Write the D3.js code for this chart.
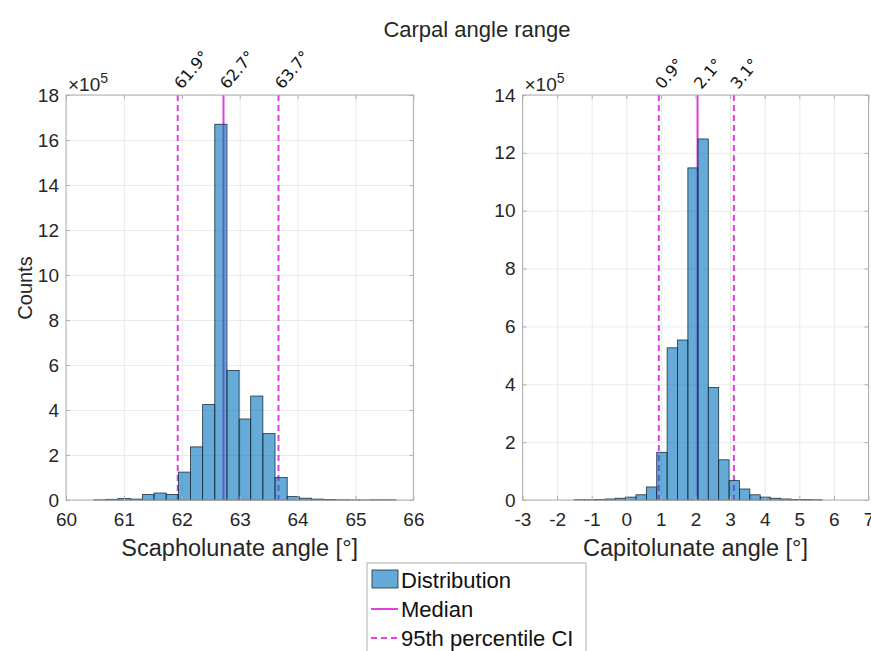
<!DOCTYPE html>
<html>
<head>
<meta charset="utf-8">
<script src="https://cdn.jsdelivr.net/npm/d3@7"></script>
<style>
  body { margin: 0; background: #fff; }
  svg { display: block; font-family: "Liberation Sans", Arial, Helvetica, sans-serif; }
</style>
</head>
<body>
<div id="chart"></div>
<script>
// DATA (counts in units of 1e5)
const slEdges = [60.48, 60.69, 60.90, 61.11, 61.32, 61.52, 61.73, 61.94, 62.15, 62.36, 62.57, 62.78, 62.99,
  63.19, 63.40, 63.61, 63.82, 64.03, 64.24, 64.45, 64.66, 64.87, 65.07, 65.28, 65.49, 65.70]
const slCounts = [0.01, 0.03, 0.07, 0.04, 0.24, 0.31, 0.25, 1.24, 2.36, 4.24, 16.7, 5.76, 3.6,
  4.62, 2.95, 1.0, 0.15, 0.08, 0.04, 0.02, 0.01, 0.005, 0.003, 0.01, 0.01]
const slStats = [61.93, 62.72, 63.67]   // lower CI, median, upper CI

const clEdges = [-1.51, -1.21, -0.91, -0.61, -0.32, -0.02, 0.28, 0.58, 0.88, 1.18, 1.48, 1.78, 2.07,
  2.37, 2.67, 2.97, 3.27, 3.57, 3.87, 4.16, 4.46, 4.76, 5.06, 5.36, 5.66]
const clCounts = [0.01, 0.01, 0.02, 0.035, 0.06, 0.1, 0.18, 0.45, 1.65, 5.26, 5.53, 11.48, 12.48,
  3.89, 1.39, 0.67, 0.38, 0.18, 0.1, 0.06, 0.035, 0.02, 0.015, 0.01]
const clStats = [0.94, 2.06, 3.11]

const slTicksX = [60, 61, 62, 63, 64, 65, 66]
const slTicksY = [0, 2, 4, 6, 8, 10, 12, 14, 16, 18]
const clTicksX = [-3, -2, -1, 0, 1, 2, 3, 4, 5, 6, 7]
const clTicksY = [0, 2, 4, 6, 8, 10, 12, 14]

const legendLabels = ["Distribution", "Median", "95th percentile CI"]

const width = 871, height = 651
const plotTop = 95, plotBottom = 500
const textColor = "#262626"
const frameColor = "#b0b0b0"
const gridColor = "#ebebeb"
const statColor = "#e23fe2"
const barFill = "#0072BD"
const barStroke = "#1c3040"

const svg = d3.select("#chart")
  .append("svg")
  .attr("width", width)
  .attr("height", height)

// TITLE
svg.append("text")
  .attr("x", 477)
  .attr("y", 37)
  .attr("text-anchor", "middle")
  .attr("font-size", 22)
  .attr("fill", textColor)
  .text("Carpal angle range")

function drawPanel(p) {
  const x = d3.scaleLinear().domain(d3.extent(p.ticksX)).range([p.left, p.right])
  const y = d3.scaleLinear().domain(d3.extent(p.ticksY)).range([plotBottom, plotTop])
  const g = svg.append("g")

  // grid
  g.append("g")
    .attr("transform", `translate(0, ${plotBottom})`)
    .call(d3.axisBottom(x).tickValues(p.ticksX).tickSize(-(plotBottom - plotTop)).tickFormat(""))
    .call(s => s.select(".domain").remove())
    .selectAll(".tick line").attr("stroke", gridColor)
  g.append("g")
    .attr("transform", `translate(${p.left}, 0)`)
    .call(d3.axisLeft(y).tickValues(p.ticksY).tickSize(-(p.right - p.left)).tickFormat(""))
    .call(s => s.select(".domain").remove())
    .selectAll(".tick line").attr("stroke", gridColor)

  // median + CI lines (drawn under the translucent bars)
  g.selectAll(".stat")
    .data(p.stats)
    .join("line")
      .attr("class", "stat")
      .attr("x1", d => x(d))
      .attr("x2", d => x(d))
      .attr("y1", plotTop)
      .attr("y2", plotBottom)
      .attr("stroke", statColor)
      .attr("stroke-width", 2)
      .attr("stroke-dasharray", (d, i) => i === 1 ? null : "6,4")

  // histogram bars
  g.selectAll(".bar")
    .data(p.counts)
    .join("rect")
      .attr("class", "bar")
      .attr("x", (d, i) => x(p.edges[i]))
      .attr("width", (d, i) => x(p.edges[i + 1]) - x(p.edges[i]))
      .attr("y", d => y(d))
      .attr("height", d => plotBottom - y(d))
      .attr("fill", barFill)
      .attr("fill-opacity", 0.6)
      .attr("stroke", barStroke)
      .attr("stroke-width", 0.8)

  // frame
  g.append("rect")
    .attr("x", p.left)
    .attr("y", plotTop)
    .attr("width", p.right - p.left)
    .attr("height", plotBottom - plotTop)
    .attr("fill", "none")
    .attr("stroke", frameColor)

  // axes with inward ticks
  const xAxis = g.append("g")
    .attr("transform", `translate(0, ${plotBottom})`)
    .call(d3.axisBottom(x).tickValues(p.ticksX).tickSize(-4).tickPadding(13).tickFormat(d => String(d)))
  const xTop = g.append("g")
    .attr("transform", `translate(0, ${plotTop})`)
    .call(d3.axisTop(x).tickValues(p.ticksX).tickSize(-4).tickFormat(""))
  const yAxis = g.append("g")
    .attr("transform", `translate(${p.left}, 0)`)
    .call(d3.axisLeft(y).tickValues(p.ticksY).tickSize(-4).tickPadding(7).tickFormat(d => String(d)))
  const yRight = g.append("g")
    .attr("transform", `translate(${p.right}, 0)`)
    .call(d3.axisRight(y).tickValues(p.ticksY).tickSize(-4).tickFormat(""))
  ;[xAxis, xTop, yAxis, yRight].forEach(a => {
    a.select(".domain").remove()
    a.selectAll(".tick line").attr("stroke", frameColor)
    a.selectAll("text")
      .attr("font-family", "Liberation Sans, Arial, sans-serif")
      .attr("font-size", 19)
      .attr("fill", textColor)
  })

  // x10^5 exponent
  const ex = g.append("text")
    .attr("x", p.left + 2)
    .attr("y", 91)
    .attr("font-size", 19)
    .attr("fill", textColor)
    .text("×10")
  ex.append("tspan")
    .attr("dy", -8)
    .attr("font-size", 14)
    .text("5")

  // rotated stat labels
  g.selectAll(".statLabel")
    .data(p.stats)
    .join("text")
      .attr("class", "statLabel")
      .attr("transform", d => `translate(${x(d) + 4}, ${plotTop - 5}) rotate(-50)`)
      .attr("font-family", "DejaVu Sans, sans-serif")
      .attr("font-size", 16)
      .attr("fill", "#111")
      .text(d => d3.format(".1f")(d) + "°")

  // x label
  g.append("text")
    .attr("x", (p.left + p.right) / 2)
    .attr("y", 556)
    .attr("text-anchor", "middle")
    .attr("font-size", 23.5)
    .attr("fill", textColor)
    .text(p.xLabel)
}

drawPanel({ left: 66, right: 413.4, edges: slEdges, counts: slCounts, stats: slStats,
  ticksX: slTicksX, ticksY: slTicksY, xLabel: "Scapholunate angle [°]" })
drawPanel({ left: 522.5, right: 868.5, edges: clEdges, counts: clCounts, stats: clStats,
  ticksX: clTicksX, ticksY: clTicksY, xLabel: "Capitolunate angle [°]" })

// y label
svg.append("text")
  .attr("transform", "translate(32, 288) rotate(-90)")
  .attr("text-anchor", "middle")
  .attr("font-size", 20)
  .attr("fill", textColor)
  .text("Counts")

// LEGEND
const legend = svg.append("g")
legend.append("rect")
  .attr("x", 367)
  .attr("y", 563)
  .attr("width", 219)
  .attr("height", 110)
  .attr("fill", "#fff")
  .attr("stroke", frameColor)

const rowY = d3.scalePoint().domain(legendLabels).range([588, 646])

legend.append("rect")
  .attr("x", 372)
  .attr("y", rowY(legendLabels[0]) - 18)
  .attr("width", 26)
  .attr("height", 18)
  .attr("fill", barFill)
  .attr("fill-opacity", 0.6)
  .attr("stroke", barStroke)
  .attr("stroke-width", 0.8)

legend.selectAll(".legLine")
  .data(legendLabels.slice(1))
  .join("line")
    .attr("class", "legLine")
    .attr("x1", 371)
    .attr("x2", 398)
    .attr("y1", d => rowY(d) - 8)
    .attr("y2", d => rowY(d) - 8)
    .attr("stroke", statColor)
    .attr("stroke-width", 2)
    .attr("stroke-dasharray", (d, i) => i === 0 ? null : "6,4")

legend.selectAll(".legText")
  .data(legendLabels)
  .join("text")
    .attr("class", "legText")
    .attr("x", 401)
    .attr("y", d => rowY(d))
    .attr("font-size", 22)
    .attr("fill", "#111")
    .text(d => d)
</script>
</body>
</html>
